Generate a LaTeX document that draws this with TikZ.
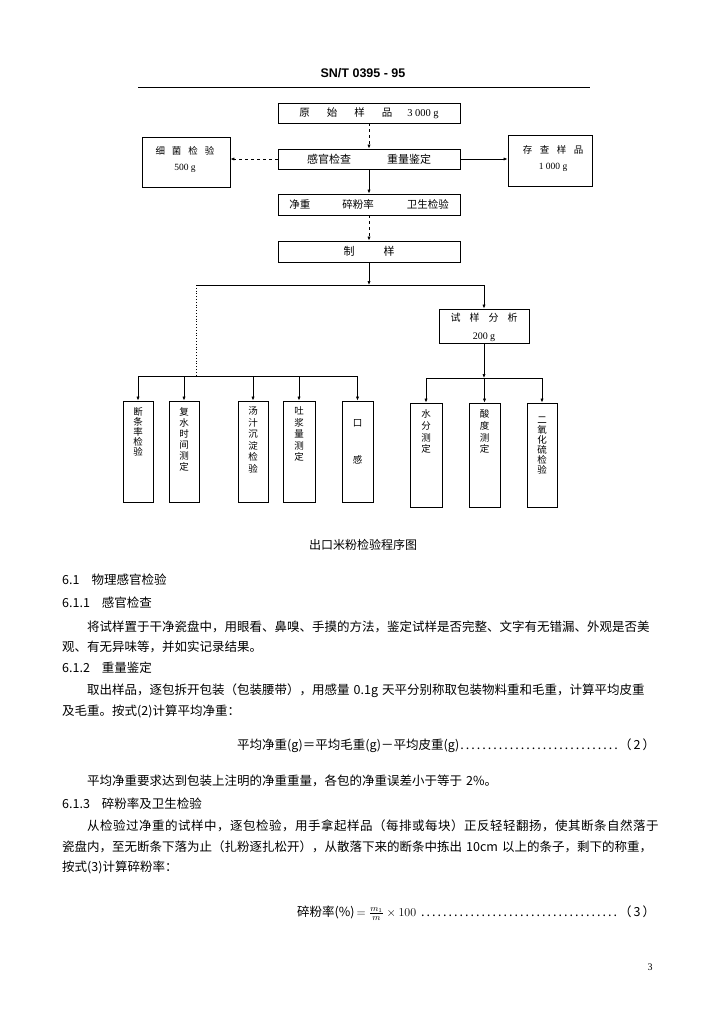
\documentclass[tikz,border=0pt]{standalone}
\usepackage{fontspec}
\setmainfont{Noto Sans CJK SC}
\newfontfamily\lat{Liberation Serif}
\newfontfamily\hdr{Liberation Sans}
\usetikzlibrary{arrows.meta}
\XeTeXinterchartokenstate=1
\newcommand\cjkglue{\hskip0pt plus 3pt\relax}
\XeTeXinterchartoks 1 1 {\cjkglue}
\XeTeXinterchartoks 1 2 {\cjkglue}
\XeTeXinterchartoks 1 3 {\cjkglue}
\XeTeXinterchartoks 2 1 {\cjkglue}
\XeTeXinterchartoks 3 1 {\cjkglue}
\XeTeXinterchartoks 3 2 {\cjkglue}
\XeTeXinterchartoks 3 3 {\cjkglue}
\XeTeXinterchartoks 0 1 {\cjkglue}
\XeTeXinterchartoks 1 0 {\cjkglue}
\XeTeXinterchartoks 0 3 {\cjkglue}
\XeTeXinterchartoks 3 0 {\cjkglue}
\XeTeXinterchartoks 0 2 {\cjkglue}
\XeTeXinterchartoks 2 0 {\cjkglue}
\begin{document}
\begin{tikzpicture}[x=1pt,y=-1pt,
  box/.style={draw, line width=0.8pt, inner sep=0pt},
  arr/.style={-{Latex[length=4pt,width=3.2pt]}, line width=0.7pt},
  ln/.style={line width=0.8pt},
  bt/.style={font=\fontsize{10.5}{12}\selectfont, inner sep=0pt},
  st/.style={font=\fontsize{9.5}{16}\selectfont, align=center, inner sep=0pt},
  vt/.style={font=\fontsize{9.5}{11}\selectfont, align=center, inner sep=0pt, anchor=north},
  body/.style={font=\fontsize{12.5}{14}\selectfont, anchor=west, inner sep=0pt}]
\fill[white] (0,0) rectangle (719,1024);
\useasboundingbox (0,0) rectangle (719,1024);
% header
\node[font=\hdr\bfseries\fontsize{12.5}{14}\selectfont, inner sep=0pt] (hd) at (363,73) {SN/T 0395 - 95};
\draw[line width=0.9pt] (138,87) -- (590,87);
% main boxes
\node[box, bt, minimum width=182pt, minimum height=20pt] (b1) at (369,113)
  {原\hspace{17pt}始\hspace{17pt}样\hspace{17pt}品\hspace{15pt}{\lat 3 000 g}};
\node[box, bt, font=\fontsize{11}{12}\selectfont, minimum width=182pt, minimum height=20pt] (b2) at (369,159)
  {感官检查\hspace{36pt}重量鉴定};
\node[box, bt, minimum width=182pt, minimum height=21pt] (b3) at (369,204.5)
  {净重\hspace{32pt}碎粉率\hspace{33pt}卫生检验};
\node[box, bt, font=\fontsize{11}{12}\selectfont, minimum width=182pt, minimum height=21pt] (b4) at (369,251.5)
  {制\hspace{29pt}样};
\node[box, minimum width=88pt, minimum height=50pt] (lb) at (186,162) {};
\node[st] (lbt) at (185,160) {细\hspace{7pt}菌\hspace{7pt}检\hspace{7pt}验\\{\lat 500 g}};
\node[box, minimum width=84pt, minimum height=51pt] (rb) at (550,160.5) {};
\node[st] (rbt) at (553,159) {存\hspace{7.5pt}查\hspace{7.5pt}样\hspace{7.5pt}品\\{\lat 1 000 g}};
\node[box, minimum width=90pt, minimum height=34pt] (tb) at (484,326) {};
\node[st, font=\fontsize{10}{18}\selectfont] (tbt) at (484,327) {试\hspace{9pt}样\hspace{9pt}分\hspace{9pt}析\\{\lat 200 g}};
% vertical boxes, left group
\node[box, minimum width=30pt, minimum height=101pt] (va) at (138,451.5) {};
\node[box, minimum width=30pt, minimum height=101pt] (vb) at (184,451.5) {};
\node[box, minimum width=30pt, minimum height=101pt] (vc) at (253,451.5) {};
\node[box, minimum width=32pt, minimum height=101pt] (vd) at (299,451.5) {};
\node[box, minimum width=31pt, minimum height=101pt] (ve) at (357.5,451.5) {};
\node[vt, font=\fontsize{9.5}{10}\selectfont] (vat) at ([yshift=-7pt]va.north) {断\\条\\率\\检\\验};
\node[vt] (vbt) at ([yshift=-7pt]vb.north) {复\\水\\时\\间\\测\\定};
\node[vt, font=\fontsize{9.5}{11.5}\selectfont] (vct) at ([yshift=-6pt]vc.north) {汤\\汁\\沉\\淀\\检\\验};
\node[vt, font=\fontsize{9.5}{11.5}\selectfont] (vdt) at ([yshift=-6pt]vd.north) {吐\\浆\\量\\测\\定};
\node[vt] (vet) at ([yshift=-19pt]ve.north) {口\\[26pt]感};
% vertical boxes, right group
\node[box, minimum width=32pt, minimum height=104pt] (vf) at (426,455) {};
\node[box, minimum width=31pt, minimum height=104pt] (vg) at (484.5,455) {};
\node[box, minimum width=30pt, minimum height=104pt] (vh) at (542,455) {};
\node[vt, font=\fontsize{9.5}{11.7}\selectfont] (vft) at ([yshift=-7pt]vf.north) {水\\分\\测\\定};
\node[vt, font=\fontsize{9.5}{11.7}\selectfont] (vgt) at ([yshift=-7pt]vg.north) {酸\\度\\测\\定};
\node[vt, font=\fontsize{9.5}{10}\selectfont] (vht) at ([yshift=-14pt]vh.north) {二\\氧\\化\\硫\\检\\验};
% connectors
\coordinate (jl) at (196,285);
\coordinate (jr) at (484,285);
\coordinate (jl2) at (196,376);
\coordinate (hl) at (0,376);
\coordinate (hr) at (0,378);
\draw[arr, dashed] (b1.south) -- (b2.north);
\draw[arr, dashed] (b2.west) -- (b2.west -| lb.east);
\draw[arr] (b2.east) -- (b2.east -| rb.west);
\draw[arr] (b2.south) -- (b3.north);
\draw[arr, dashed] (b3.south) -- (b4.north);
\draw[arr] (b4.south) -- (b4.south |- jl);
\draw[ln] (jl) -- (jr);
\draw[arr] (jr) -- (tb.north);
\draw[ln, dotted] (jl) -- (jl2);
\draw[ln] (va.north |- hl) -- (ve.north |- hl);
\foreach \n in {va,vb,vc,vd,ve} \draw[arr] (\n.north |- hl) -- (\n.north);
\draw[arr] (tb.south) -- (tb.south |- hr);
\draw[ln] (vf.north |- hr) -- (vh.north |- hr);
\foreach \n in {vf,vg,vh} \draw[arr] (\n.north |- hr) -- (\n.north);
% caption
\node[font=\fontsize{12}{14}\selectfont, inner sep=0pt] (cap) at (363,545) {出口米粉检验程序图};
% body text
\node[body] (l1) at (62,580) {6.1\hspace{12pt}物理感官检验};
\node[body] (l2) at (62,603) {6.1.1\hspace{12pt}感官检查};
\node[body] (l3) at (87,627) {\hbox to 575pt{将试样置于干净瓷盘中，用眼看、鼻嗅、手摸的方法，鉴定试样是否完整、文字有无错漏、外观是否美}};
\node[body] (l4) at (62,647) {观、有无异味等，并如实记录结果。};
\node[body] (l5) at (62,668) {6.1.2\hspace{12pt}重量鉴定};
\node[body] (l6) at (87,691) {\hbox to 575pt{取出样品，逐包拆开包装（包装腰带），用感量\hspace{4pt}0.1g\hspace{4pt}天平分别称取包装物料重和毛重，计算平均皮重}};
\node[body] (l7) at (62,711) {及毛重。按式(2)计算平均净重：};
\node[body] (l8) at (237,746) {\hbox to 418pt{平均净重(g)＝平均毛重(g)－平均皮重(g)\dotfill（\,2\,）}};
\node[body] (l9) at (87,781) {平均净重要求达到包装上注明的净重重量，各包的净重误差小于等于\hspace{4pt}2\%。};
\node[body] (l10) at (62,804) {6.1.3\hspace{12pt}碎粉率及卫生检验};
\node[body] (l11) at (87,826) {\addfontfeatures{LetterSpace=4}从检验过净重的试样中，逐包检验，用手拿起样品（每排或每块）正反轻轻翻扬，使其断条自然落于};
\node[body] (l12) at (62,847) {\hbox to 598pt{瓷盘内，至无断条下落为止（扎粉逐扎松开），从散落下来的断条中拣出\hspace{4pt}10cm\hspace{4pt}以上的条子，剩下的称重，}};
\node[body] (l13) at (62,867) {按式(3)计算碎粉率：};
\node[body] (l14) at (297,913) {\hbox to 358pt{碎粉率(\%)$\,=\frac{m_1}{m}\times 100$\ \dotfill（\,3\,）}};
\node[font=\lat\fontsize{10}{12}\selectfont, inner sep=0pt] (pg) at (650,967) {3};
\end{tikzpicture}
\end{document}
